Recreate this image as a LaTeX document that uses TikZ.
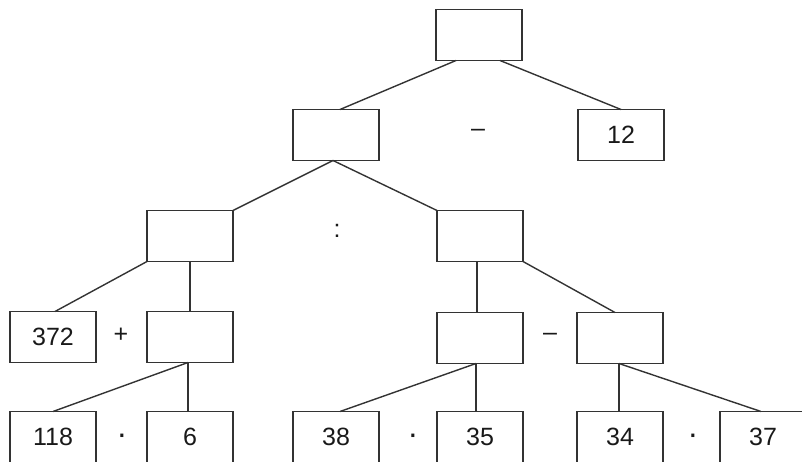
\documentclass[tikz,border=0pt]{standalone}
\usepackage{fontspec}
\setmainfont{Liberation Sans}
\begin{document}
\begin{tikzpicture}[x=1pt,y=-1pt,
  box/.style={draw=black!80, line width=1.4pt, minimum width=86pt, minimum height=51pt, inner sep=0pt, outer sep=0pt, font=\fontsize{25}{25}\selectfont, text=black!90},
  op/.style={inner sep=0pt, font=\fontsize{25}{25}\selectfont, text=black!90},
  dotop/.style={inner sep=0pt, font=\fontsize{32}{32}\selectfont, text=black!90},
  link/.style={draw=black!80, line width=1.4pt}]
\useasboundingbox (0,0) rectangle (802,462);
\clip (0,0) rectangle (802,462);
% level 1
\node[box] (top) at (479,35) {};
% level 2
\node[box] (a) at (336,135) {};
\node[op] (m1) at (478,133) {–};
\node[box] (b) at (621,135) {12};
% level 3
\node[box] (c) at (190,236) {};
\node[op] (d1) at (337,231) {:};
\node[box] (d) at (480,236) {};
% level 4
\node[box] (e) at (53,337) {372};
\node[op] (p1) at (121,335) {+};
\node[box] (f) at (190,337) {};
\node[box] (g) at (480,338) {};
\node[op] (m2) at (550,337) {–};
\node[box] (h) at (620,338) {};
% level 5
\node[box] (i) at (53,437) {118};
\node[dotop] (t1) at (122,439) {·};
\node[box] (j) at (190,437) {6};
\node[box] (k) at (336,437) {38};
\node[dotop] (t2) at (413,439) {·};
\node[box] (l) at (480,437) {35};
\node[box] (mm) at (620,437) {34};
\node[dotop] (t3) at (693,439) {·};
\node[box] (n) at (763,437) {37};
% connectors
\draw[link] ([xshift=-23pt]top.south) -- ([xshift=4pt]a.north);
\draw[link] ([xshift=21pt]top.south) -- (b.north);
\draw[link] ([xshift=-3pt]a.south) -- (c.north east);
\draw[link] ([xshift=-3pt]a.south) -- (d.north west);
\draw[link] (c.south west) -- ([xshift=2pt]e.north);
\draw[link] (c.south) -- (f.north);
\draw[link] ([xshift=-3pt]d.south) -- ([xshift=-3pt]g.north);
\draw[link] (d.south east) -- ([xshift=-5pt]h.north);
\draw[link] ([xshift=-2pt]f.south) -- (i.north);
\draw[link] ([xshift=-2pt]f.south) -- ([xshift=-2pt]j.north);
\draw[link] ([xshift=-4pt]g.south) -- ([xshift=4pt]k.north);
\draw[link] ([xshift=-4pt]g.south) -- ([xshift=-4pt]l.north);
\draw[link] ([xshift=-1pt]h.south) -- ([xshift=-1pt]mm.north);
\draw[link] ([xshift=-1pt]h.south) -- ([xshift=-2pt]n.north);
\end{tikzpicture}
\end{document}
